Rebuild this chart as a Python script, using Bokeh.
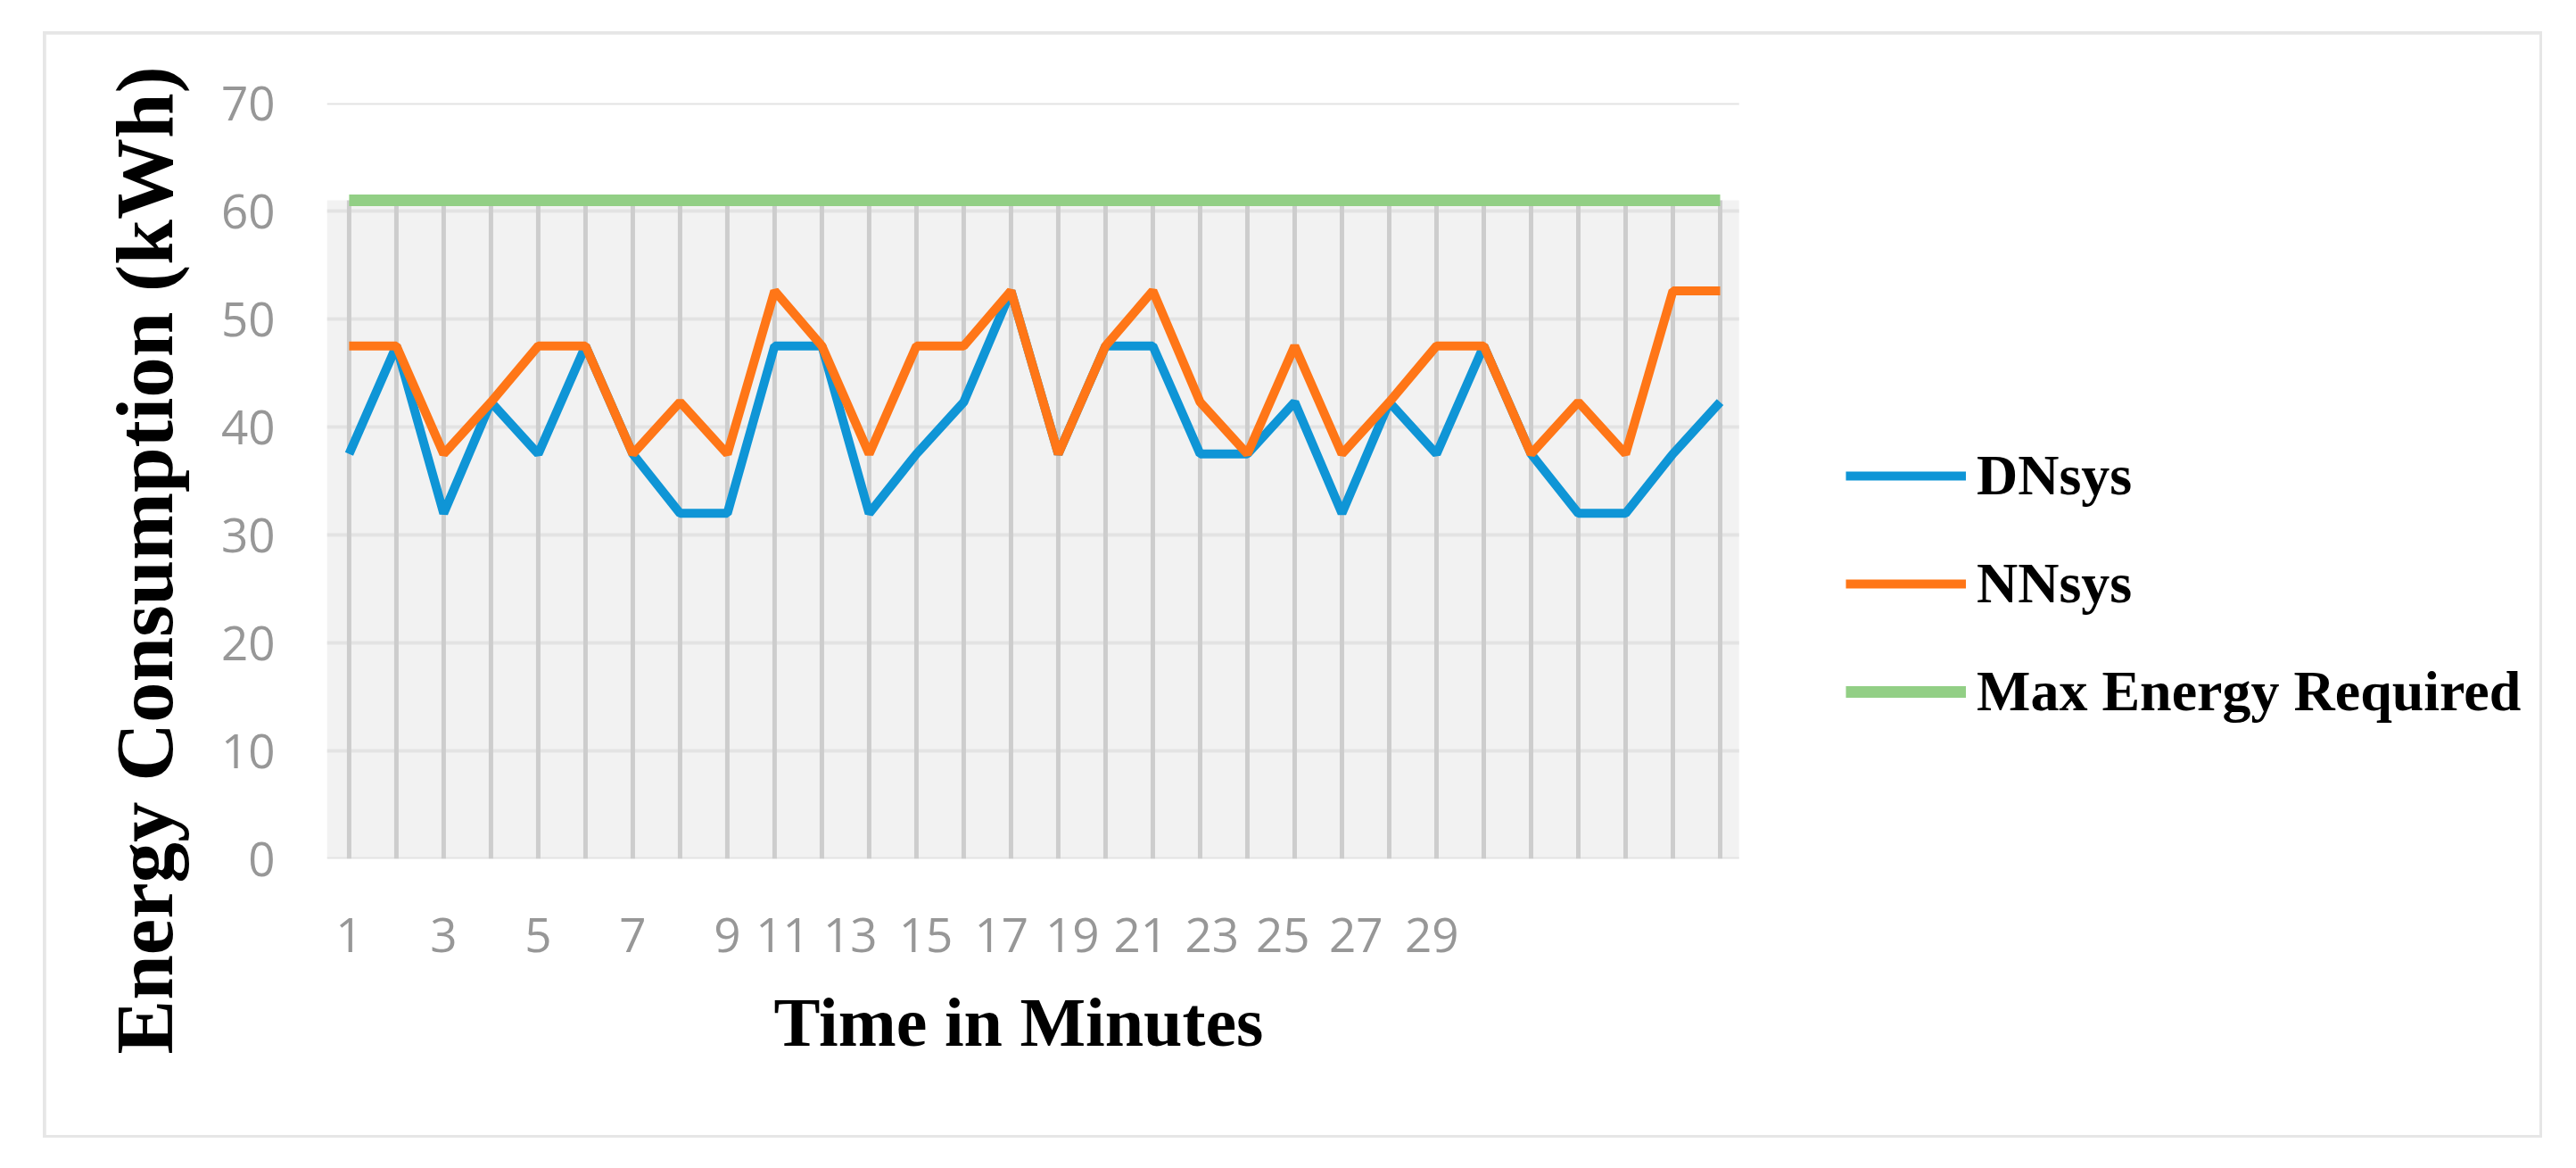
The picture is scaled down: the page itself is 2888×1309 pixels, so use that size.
from bokeh.plotting import figure
from bokeh.models import (Range1d, FixedTicker, Legend, LegendItem, BoxAnnotation, Title)
from bokeh.embed import file_html
from bokeh.resources import INLINE

# ---------------- data ----------------
minutes = [1, 2, 3, 4, 5, 6, 7, 8, 9, 10, 11, 12, 13, 14, 15,
           16, 17, 18, 19, 20, 21, 22, 23, 24, 25, 26, 27, 28, 29, 30]
dnsys = [37.5, 47.5, 32, 42.3, 37.5, 47.5, 37.5, 32, 32, 47.5,
         47.5, 32, 37.5, 42.3, 52.6, 37.5, 47.5, 47.5, 37.5, 37.5,
         42.3, 32, 42.3, 37.5, 47.5, 37.5, 32, 32, 37.5, 42.3]
nnsys = [47.5, 47.5, 37.5, 42.3, 47.5, 47.5, 37.5, 42.3, 37.5, 52.6,
         47.5, 37.5, 47.5, 47.5, 52.6, 37.5, 47.5, 52.6, 42.3, 37.5,
         47.5, 37.5, 42.3, 47.5, 47.5, 37.5, 42.3, 37.5, 52.6, 52.6]
max_energy = [61, 61, 61, 61, 61, 61, 61, 61, 61, 61,
              61, 61, 61, 61, 61, 61, 61, 61, 61, 61,
              61, 61, 61, 61, 61, 61, 61, 61, 61, 61]
series_names = ["DNsys", "NNsys", "Max Energy Required"]
x_tick_labels = ["1", "3", "5", "7", "9", "11", "13", "15", "17", "19",
                 "21", "23", "25", "27", "29"]
x_tick_at = [1, 3, 5, 7, 9, 10.17, 11.6, 13.2, 14.8, 16.3,
             17.74, 19.25, 20.75, 22.3, 23.9]
y_ticks = [0, 10, 20, 30, 40, 50, 60, 70]
y_title = "Energy Consumption (kWh)"
x_title = "Time in Minutes"

# plot-area extent (x units) and full canvas x extent (legend lives to the right)
area_x_lo, area_x_hi = 0.53, 30.4
canvas_x_hi = 47.15

BLUE = "#0f95d6"
ORANGE = "#ff7617"
GREEN = "#92cf85"

W, H = 2796, 1234
p = figure(width=W, height=H, output_backend="svg", toolbar_location=None,
           x_range=Range1d(area_x_lo, canvas_x_hi), y_range=Range1d(0, 70),
           min_border_left=315, min_border_right=10,
           min_border_top=77, min_border_bottom=310)
p.margin = (38, 0, 0, 51)
p.styles = {"outline": "6px solid #e6e6e6", "outline-offset": "-3px"}
p.outline_line_color = None
p.background_fill_color = "white"
p.border_fill_color = "white"
p.xgrid.visible = False
p.ygrid.visible = False

# shaded area under max line
p.add_layout(BoxAnnotation(bottom=0, top=max(max_energy), left=area_x_lo, right=area_x_hi,
                           fill_color="#f2f2f2", fill_alpha=1, line_color=None, level="image"))

# horizontal gridlines across the plot area
p.segment(x0=area_x_lo, x1=area_x_hi, y0=y_ticks, y1=y_ticks,
          line_color="#e3e3e3", line_width=4)

# drop lines
p.segment(x0=minutes, y0=0, x1=minutes, y1=max_energy, line_color="#cdcdcd", line_width=5)

r_dn = p.line(minutes, dnsys, line_color=BLUE, line_width=10)
r_nn = p.line(minutes, nnsys, line_color=ORANGE, line_width=10)
r_mx = p.line(minutes, max_energy, line_color=GREEN, line_width=13)

# axes
for ax in (p.xaxis[0], p.yaxis[0]):
    ax.axis_line_color = None
    ax.major_tick_line_color = None
    ax.minor_tick_line_color = None
    ax.major_label_text_color = "#979797"
    ax.major_label_text_font = "Open Sans"
    ax.major_label_text_font_size = "53px"

p.yaxis[0].ticker = FixedTicker(ticks=y_ticks)
p.yaxis[0].major_label_standoff = 52

p.xaxis[0].ticker = FixedTicker(ticks=x_tick_at)
p.xaxis[0].major_label_overrides = {t: s for t, s in zip(x_tick_at, x_tick_labels)}
p.xaxis[0].major_label_standoff = 60

# axis titles as panel titles (shifted along the axis)
p.add_layout(Title(text=x_title, align="left", offset=501, vertical_align="top",
                   standoff=64, text_font="Liberation Serif", text_font_style="bold",
                   text_font_size="78px", text_color="black"), "below")
p.add_layout(Title(text=y_title, align="left", offset=-219, vertical_align="middle",
                   standoff=62, text_font="Liberation Serif", text_font_style="bold",
                   text_font_size="91px", text_color="black"), "left")

legend = Legend(items=[LegendItem(label=series_names[0], renderers=[r_dn]),
                       LegendItem(label=series_names[1], renderers=[r_nn]),
                       LegendItem(label=series_names[2], renderers=[r_mx])],
                location=(1703, 150), orientation="vertical")
legend.padding = 0
legend.margin = 0
legend.border_line_color = None
legend.background_fill_alpha = 0
legend.glyph_width = 135
legend.glyph_height = 72
legend.label_height = 72
legend.spacing = 47
legend.label_standoff = 12
legend.label_text_font = "Liberation Serif"
legend.label_text_font_style = "bold"
legend.label_text_font_size = "64px"
legend.label_text_color = "black"
legend.label_text_baseline = "middle"
p.add_layout(legend)

open("out.html", "w").write(file_html(p, INLINE))
